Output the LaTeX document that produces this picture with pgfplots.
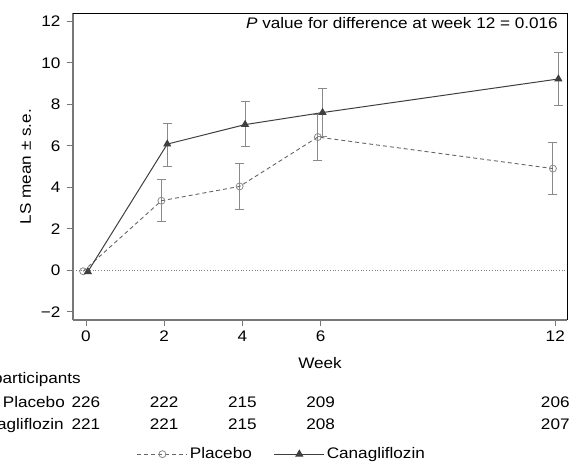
\documentclass[border=0pt]{standalone}
\usepackage{pgfplots}
\pgfplotsset{compat=1.18}
\usepackage{fontspec}
\setmainfont{Liberation Sans}[FakeStretch=1.12]
\definecolor{spine}{HTML}{777777}
\definecolor{ebar}{HTML}{8A8A8A}
\definecolor{lineP}{HTML}{666666}
\definecolor{lineC}{HTML}{3F3F3F}
\begin{document}
\begin{tikzpicture}[font=\fontsize{15.3bp}{18bp}\selectfont]
\begin{axis}[
  at={(0,0)}, anchor=south west,
  scale only axis, width=494bp, height=307bp,
  xmin=-0.33, xmax=12.3, ymin=-2.4, ymax=12.4,
  axis lines=left,
  axis line style={-, spine, line width=1.3bp},
  tick align=outside,
  major tick length=6bp,
  tick style={spine, line width=0.8bp},
  xtick={0,2,4,6,12}, xticklabels={0,2,4,6,12},
  ytick={-2,0,2,4,6,8,10,12},
  yticklabels={−2,0,2,4,6,8,10,12},
  /pgf/number format/assume math mode=true,
  yticklabel style={xshift=-3bp},
  xticklabel style={yshift=-1bp},
  clip=false,
  legend style={draw=none, fill=none, at={(axis description cs:0.423,-0.437)}, anchor=center,
    legend columns=2, /tikz/every even column/.append style={column sep=20bp},
    font=\fontsize{15.3bp}{18bp}\selectfont, inner sep=0pt},
  legend cell align=left,
  legend image code/.code={\draw[mark repeat=2,mark phase=2,#1] plot coordinates {(0bp,0bp)(25bp,0bp)(50bp,0bp)};},
]
% zero reference line
\addplot[forget plot, gray, dotted, line width=0.8bp] coordinates {(-0.33,0) (12.3,0)};
% error bars
\addplot[forget plot, draw=none, mark=none, error bars/.cd, y dir=both, y explicit,
  error bar style={ebar, line width=0.9bp}, error mark options={ebar, rotate=90, mark size=4.5bp, line width=0.9bp}]
  coordinates {
  (1.93,3.35) += (0,1.02) -= (0,1.00)
  (3.93,4.04) += (0,1.09) -= (0,1.11)
  (5.93,6.42) += (0,1.08) -= (0,1.14)
  (11.94,4.90) += (0,1.25) -= (0,1.25)
  };
\addplot[forget plot, draw=none, mark=none, error bars/.cd, y dir=both, y explicit,
  error bar style={ebar, line width=0.9bp}, error mark options={ebar, rotate=90, mark size=4.5bp, line width=0.9bp}]
  coordinates {
  (2.08,6.08) += (0,1.00) -= (0,1.06)
  (4.07,7.02) += (0,1.13) -= (0,1.07)
  (6.05,7.60) += (0,1.15) -= (0,1.15)
  (12.08,9.22) += (0,1.30) -= (0,1.27)
  };
% Placebo
\addplot[lineP, line width=0.9bp, dash pattern=on 4bp off 3bp, mark=o,
  mark options={solid, ebar, mark size=3.5bp, line width=0.8bp}]
  coordinates {(-0.07,-0.05) (1.93,3.35) (3.93,4.04) (5.93,6.42) (11.94,4.90)};
\addlegendentry{Placebo}
% Canagliflozin
\addplot[lineC, line width=1bp, mark=triangle*,
  mark options={solid, lineC, fill=lineC, mark size=3.8bp}]
  coordinates {(0.05,-0.07) (2.08,6.08) (4.07,7.02) (6.05,7.60) (12.08,9.22)};
\addlegendentry{Canagliflozin}
% top and right spines
\draw[black, line width=0.8bp] (rel axis cs:0,1) -- (rel axis cs:1,1) -- (rel axis cs:1,0);
% p-value
\node[anchor=north east, inner sep=0pt] at ([xshift=-9bp,yshift=-4bp]rel axis cs:1,1)
  {{\itshape P} value for difference at week 12 = 0.016};
% labels
\node[anchor=base, inner sep=0pt] at ([yshift=-48bp]rel axis cs:0.5,0) {Week};
\node[xshift=-42bp, rotate=90, anchor=base, inner sep=0pt] at (rel axis cs:0,0.5) {LS mean ± s.e.};
% participants table
\node[anchor=base east, inner sep=0pt] at ([xshift=8bp,yshift=-63bp]rel axis cs:0,0) {No. of participants};
\node[anchor=base east, inner sep=0pt] at ([xshift=-8bp,yshift=-87bp]rel axis cs:0,0) {Placebo};
\node[anchor=base east, inner sep=0pt] at ([xshift=-9bp,yshift=-109bp]rel axis cs:0,0) {Canagliflozin};
\node[anchor=base, inner sep=0pt] at ([yshift=-87bp]axis cs:0,-2.4) {226};
\node[anchor=base, inner sep=0pt] at ([yshift=-87bp]axis cs:2,-2.4) {222};
\node[anchor=base, inner sep=0pt] at ([yshift=-87bp]axis cs:4,-2.4) {215};
\node[anchor=base, inner sep=0pt] at ([yshift=-87bp]axis cs:6,-2.4) {209};
\node[anchor=base, inner sep=0pt] at ([yshift=-87bp]axis cs:12,-2.4) {206};
\node[anchor=base, inner sep=0pt] at ([yshift=-109bp]axis cs:0,-2.4) {221};
\node[anchor=base, inner sep=0pt] at ([yshift=-109bp]axis cs:2,-2.4) {221};
\node[anchor=base, inner sep=0pt] at ([yshift=-109bp]axis cs:4,-2.4) {215};
\node[anchor=base, inner sep=0pt] at ([yshift=-109bp]axis cs:6,-2.4) {208};
\node[anchor=base, inner sep=0pt] at ([yshift=-109bp]axis cs:12,-2.4) {207};
\end{axis}
\pgfresetboundingbox
\useasboundingbox (-73bp,-145bp) rectangle (509bp,320bp);
\end{tikzpicture}
\end{document}
